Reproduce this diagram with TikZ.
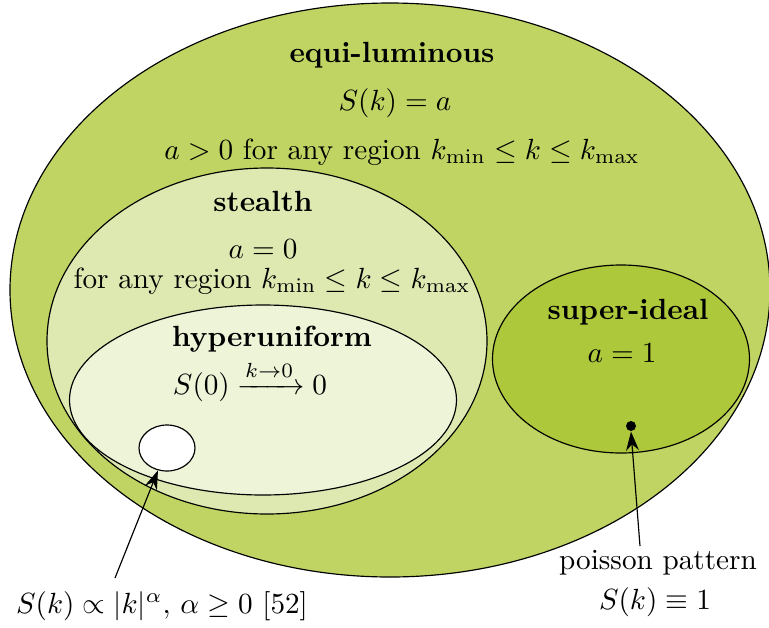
\documentclass[tikz,border=0pt]{standalone}
\usepackage{amsmath}
\usetikzlibrary{shapes.geometric,arrows.meta}
\definecolor{outerc}{RGB}{191,212,98}
\definecolor{stealthc}{RGB}{222,233,177}
\definecolor{hyperc}{RGB}{238,244,216}
\definecolor{superc}{RGB}{173,200,58}
\def\pxu{0.3424pt}
\tikzset{
  region/.style={ellipse, draw, inner sep=0pt, line width=0.4pt},
  title/.style={font=\bfseries, inner sep=0pt},
  txt/.style={inner sep=0pt},
  pointer/.style={-{Stealth[length=6.5pt,width=4.4pt]}, line width=0.4pt}
}
\begin{document}
\begin{tikzpicture}[x=\pxu, y=-\pxu]
\useasboundingbox (0,0) rectangle (769,628);
\node[region, fill=outerc, minimum width=760*\pxu, minimum height=574*\pxu] (equi) at (390,290) {};
\node[region, fill=superc, minimum width=257*\pxu, minimum height=188*\pxu] (super) at (621,359) {};
\node[region, fill=stealthc, minimum width=440*\pxu, minimum height=346*\pxu] (stealth) at (267,341) {};
\node[region, fill=hyperc, minimum width=387*\pxu, minimum height=190*\pxu] (hyper) at (263,400) {};
\node[region, fill=white, minimum width=56*\pxu, minimum height=46*\pxu] (wc) at (167,448) {};
\node[circle, fill=black, inner sep=0pt, minimum size=10*\pxu] (dot) at (631,426) {};

\node[title] (t1) at (392,55) {equi-luminous};
\node[txt] (t1a) at (395,103) {$S(k)=a$};
\node[txt] (t1b) at (402,152) {$a>0$ for any region $k_{\min}\le k\le k_{\max}$};
\node[title] (t2) at (263,201) {stealth};
\node[txt] (t2a) at (263,249) {$a=0$};
\node[txt] (t2b) at (272,281) {for any region $k_{\min}\le k\le k_{\max}$};
\node[title] (t3) at (272,339) {hyperuniform};
\node[txt] (t3a) at (250,381) {$S(0)\xrightarrow{k\rightarrow0}0$};
\node[title] (t4) at (628,312) {super-ideal};
\node[txt] (t4a) at (622,353) {$a=1$};
\node[txt] (p1) at (658,563) {poisson pattern};
\node[txt] (p2) at (655,602) {$S(k)\equiv1$};
\node[txt] (l1) at (162,606) {$S(k)\propto|k|^{\alpha},\,\alpha\ge0$ [52]};

\coordinate (s1) at (115,578);
\coordinate (s2) at (640,546);
\draw[pointer] (s1) -- (wc.-112);
\draw[pointer] (s2) -- (dot.south);
\end{tikzpicture}
\end{document}
